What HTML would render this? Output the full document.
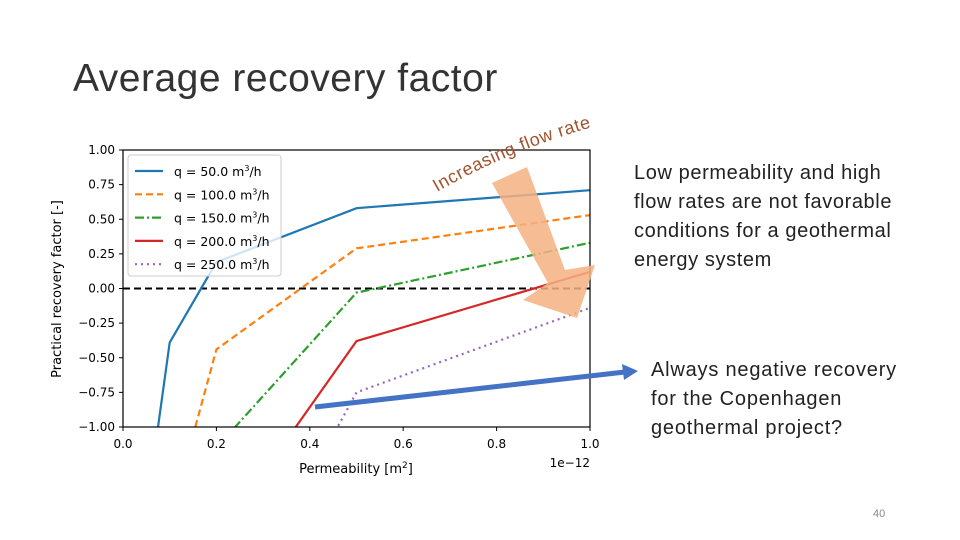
<!DOCTYPE html>
<html><head><meta charset="utf-8"><style>
html,body{margin:0;width:960px;height:540px;background:#fff;overflow:hidden;font-family:"DejaVu Sans","Liberation Sans",sans-serif;position:relative}
.t{position:absolute;font-family:"Liberation Sans",sans-serif;color:#222;white-space:nowrap}
</style></head><body>
<div class="t" style="left:73px;top:57px;font-size:39px;font-weight:300;color:#333;letter-spacing:0.5px">Average recovery factor</div>
<div class="t" style="left:634px;top:159px;font-size:20px;line-height:29px;letter-spacing:0.6px">Low permeability and high<br>flow rates are not favorable<br>conditions for a geothermal<br>energy system</div>
<div class="t" style="left:651px;top:356px;font-size:20px;line-height:29px;letter-spacing:0.8px">Always negative recovery<br>for the Copenhagen<br>geothermal project?</div>
<div class="t" style="left:873px;top:508px;font-size:11px;color:#888">40</div>
<svg id="chart" width="960" height="540" style="position:absolute;left:0;top:0" font-family="DejaVu Sans, sans-serif"></svg>
<script>
const xs=[0.05,0.1,0.2,0.5,1.0];
const seriesLabels=["50.0","100.0","150.0","200.0","250.0"];
const s50=[-1.61,-0.39,0.19,0.58,0.71];
const s100=[-1.68,-1.68,-0.44,0.29,0.53];
const s150=[-1.52,-1.52,-1.15,-0.03,0.33];
const s200=[-1.81,-1.81,-1.81,-0.38,0.12];
const s250=[-2.6,-2.6,-2.6,-0.75,-0.14];
const xTicks=[0,0.2,0.4,0.6,0.8,1.0];
const yTicks=[1,0.75,0.5,0.25,0,-0.25,-0.5,-0.75,-1];
const X0=123,X1=590,Y0=150,Y1=427;
const sx=v=>X0+v*(X1-X0), sy=v=>Y0+(1-v)/2*(Y1-Y0);
const svg=document.getElementById('chart');const NS='http://www.w3.org/2000/svg';
function mk(t,a,txt){const e=document.createElementNS(NS,t);for(const k in a)e.setAttribute(k,a[k]);if(txt!==undefined)e.textContent=txt;svg.appendChild(e);return e;}
const defs=mk('defs',{});const cp=document.createElementNS(NS,'clipPath');cp.setAttribute('id','pc');
const cr=document.createElementNS(NS,'rect');cr.setAttribute('x',X0);cr.setAttribute('y',Y0);cr.setAttribute('width',X1-X0);cr.setAttribute('height',Y1-Y0);cp.appendChild(cr);defs.appendChild(cp);
xTicks.forEach(v=>{const l=mk('line',{x1:sx(v),x2:sx(v),y1:Y1,y2:Y1+4,stroke:'#000'});
const t=mk('text',{x:sx(v),y:Y1+21,'text-anchor':'middle','font-size':12},v.toFixed(1));});
yTicks.forEach(v=>{const l=mk('line',{x1:X0-4,x2:X0,y1:sy(v),y2:sy(v),stroke:'#000'});
const t=mk('text',{x:X0-8,y:sy(v)+4,'text-anchor':'end','font-size':12},(v<0?'\u2212':'')+Math.abs(v).toFixed(2));});
const z=mk('line',{x1:X0,x2:X1,y1:sy(0),y2:sy(0),stroke:'#000','stroke-width':2,'stroke-dasharray':'7,4'});

const cols=['#1f77b4','#ff7f0e','#2ca02c','#d62728','#9467bd'];
const dashes=['none','7,4','9,3,2,3','none','2,4'];
[s50,s100,s150,s200,s250].forEach((s,i)=>{const p=mk('polyline',{points:s.map((v,j)=>sx(xs[j])+','+sy(v)).join(' '),fill:'none',stroke:cols[i],'stroke-width':2.2,'stroke-dasharray':dashes[i],'clip-path':'url(#pc)'});
});
const lg=mk('rect',{x:128,y:155,width:153,height:121,fill:'#fff','fill-opacity':0.8,stroke:'#ccc',rx:3});

seriesLabels.forEach((q,i)=>{const y=171+i*23.3;
const l=mk('line',{x1:135,x2:163,y1:y,y2:y,stroke:cols[i],'stroke-width':2.2,'stroke-dasharray':dashes[i]});
const t=mk('text',{x:174,y:y+5,'font-size':12.5});
t.innerHTML='q = '+q+' m<tspan dy="-5" font-size="8">3</tspan><tspan dy="5">/h</tspan>';});
const fr=mk('rect',{x:X0,y:Y0,width:X1-X0,height:Y1-Y0,fill:'none',stroke:'#000','stroke-width':1.2});

const xt=mk('text',{x:356,y:473,'text-anchor':'middle','font-size':13});
xt.innerHTML='Permeability [m<tspan dy="-5" font-size="9">2</tspan><tspan dy="5">]</tspan>';
const xo=mk('text',{x:590,y:467,'text-anchor':'end','font-size':12},'1e\u221212');
const yt=mk('text',{x:61,y:289,'text-anchor':'middle','font-size':13,transform:'rotate(-90 61 289)'},'Practical recovery factor [-]');
const ar=mk('polygon',{points:'492,183 527,167 565,270 595,265 577,318 523,300 548,283',fill:'#f4b183','fill-opacity':0.85});

const cv=document.createElementNS(NS,'path');cv.setAttribute('id','cv');cv.setAttribute('d','M437,192 Q510,150 596,126');defs.appendChild(cv);
const ft=mk('text',{'font-size':18,fill:'#a0522d','letter-spacing':0.6,'font-family':'Liberation Sans, sans-serif'});
ft.innerHTML='<textPath href="#cv">Increasing flow rate</textPath>';
const bl=mk('line',{x1:315,y1:407,x2:625,y2:372,stroke:'#4472c4','stroke-width':5});
const bh=mk('polygon',{points:'638,371 622,364 624,380',fill:'#4472c4'});
</script>
</body></html>
